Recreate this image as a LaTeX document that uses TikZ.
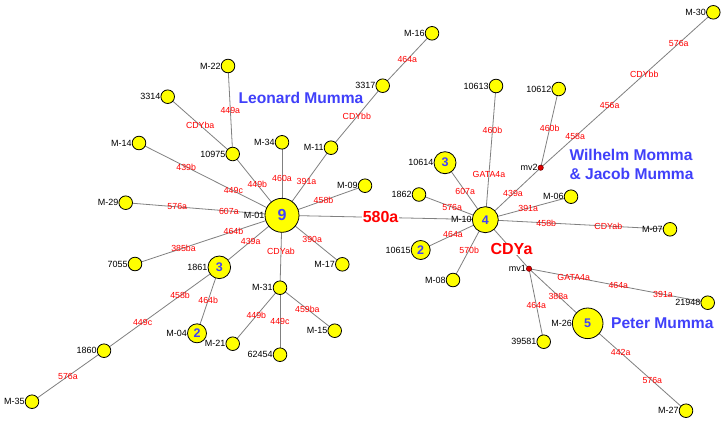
\documentclass[tikz,border=0pt]{standalone}
\usepackage{fontspec}
\setmainfont{Liberation Sans}
\usetikzlibrary{backgrounds}
\definecolor{nodeyellow}{RGB}{255,255,0}
\definecolor{txtblue}{RGB}{64,64,250}
\definecolor{edgegray}{RGB}{128,128,128}
\definecolor{mvred}{RGB}{225,0,0}
\begin{document}
\begin{tikzpicture}[x=1pt,y=-1pt,
  hap/.style={circle,draw=black,line width=0.8pt,fill=nodeyellow,inner sep=0pt,minimum size=13.6pt,label distance=1.5pt,
    text=txtblue,font=\bfseries\fontsize{12.5}{12.5}\selectfont},
  mvnode/.style={circle,draw=black!60!red,fill=mvred,line width=0.5pt,inner sep=0pt,minimum size=5.4pt,label distance=2pt},
  nlab/.style={font=\fontsize{9}{9}\selectfont,text=black,inner sep=0pt},
  edge/.style={draw=edgegray,line width=0.8pt},
  elab/.style={font=\fontsize{8.8}{8.8}\selectfont,text=red,inner sep=0pt},
  biglab/.style={font=\bfseries\fontsize{16}{16}\selectfont,text=red,fill=white,inner sep=0.6pt},
  grouplab/.style={font=\bfseries\fontsize{15.6}{19}\selectfont,text=txtblue,inner sep=0pt}
]
\useasboundingbox (0,0) rectangle (723,421);

% haplotype nodes
\node[hap,minimum size=34pt,font=\bfseries\fontsize{16}{16}\selectfont,label={[nlab]left:M-01}] (m01) at (282,215.3) {9};
\node[hap,minimum size=26pt,label={[nlab]left:M-10}] (m10) at (485.3,219.7) {4};
\node[hap,minimum size=30.6pt,label={[nlab]left:M-26}] (m26) at (587.7,323.3) {5};
\node[hap,minimum size=22.6pt,label={[nlab]left:1861}] (n1861) at (219.3,267.3) {3};
\node[hap,minimum size=22pt,label={[nlab]left:10614}] (n10614) at (445,162.7) {3};
\node[hap,minimum size=19pt,label={[nlab]left:10615}] (n10615) at (420.7,250) {2};
\node[hap,minimum size=19pt,label={[nlab]left:M-04}] (m04) at (197,333.3) {2};

\node[hap,label={[nlab]left:M-22}] (m22) at (228,66) {};
\node[hap,label={[nlab]left:3314}] (n3314) at (167.7,96.7) {};
\node[hap,label={[nlab]left:M-14}] (m14) at (139,143) {};
\node[hap,label={[nlab]left:10975}] (n10975) at (232.7,154) {};
\node[hap,label={[nlab]left:M-29}] (m29) at (125.7,202.7) {};
\node[hap,label={[nlab]left:7055}] (n7055) at (135,264) {};
\node[hap,label={[nlab]left:M-34}] (m34) at (282,142.3) {};
\node[hap,label={[nlab]left:M-11}] (m11) at (331,147.7) {};
\node[hap,label={[nlab]left:M-09}] (m09) at (365,185.7) {};
\node[hap,label={[nlab]left:M-17}] (m17) at (342.3,264.3) {};
\node[hap,label={[nlab]left:1862}] (n1862) at (419,194.5) {};
\node[hap,label={[nlab]left:M-08}] (m08) at (453,280) {};
\node[hap,label={[nlab]left:M-16}] (m16) at (432,33.3) {};
\node[hap,label={[nlab]left:3317}] (n3317) at (382.7,85.7) {};
\node[hap,label={[nlab]left:M-30}] (m30) at (713.3,12.3) {};
\node[hap,label={[nlab]left:10613}] (n10613) at (496,86) {};
\node[hap,label={[nlab]left:10612}] (n10612) at (558.7,89) {};
\node[hap,label={[nlab]left:M-06}] (m06) at (571,196.7) {};
\node[hap,label={[nlab]left:M-07}] (m07) at (670,229.3) {};
\node[hap,label={[nlab]left:21948}] (n21948) at (707.7,302.7) {};
\node[hap,label={[nlab]left:39581}] (n39581) at (543.7,341.7) {};
\node[hap,label={[nlab]left:M-27}] (m27) at (686,410.7) {};
\node[hap,label={[nlab]left:M-31}] (m31) at (280,287.7) {};
\node[hap,label={[nlab]left:M-21}] (m21) at (232.7,343.7) {};
\node[hap,label={[nlab]left:62454}] (n62454) at (280,354.7) {};
\node[hap,label={[nlab]left:M-15}] (m15) at (334.7,330.7) {};
\node[hap,label={[nlab]left:1860}] (n1860) at (104,350.7) {};
\node[hap,label={[nlab]left:M-35}] (m35) at (32,401.7) {};

% median vectors
\node[mvnode,label={[nlab]left:mv2}] (mv2) at (540.7,167.7) {};
\node[mvnode,label={[nlab]left:mv1}] (mv1) at (529,268.7) {};

% group names
\node[grouplab] (leonard) at (301,98.3) {Leonard Mumma};
\node[grouplab,align=left,anchor=west] (wilhelm) at (569.3,164) {Wilhelm Momma\\\& Jacob Mumma};
\node[grouplab] (peter) at (662.3,323.3) {Peter Mumma};

\begin{scope}[on background layer]
\fill[white] (0,0) rectangle (723,421);
% left cluster
\draw[edge] (n3314.center) -- node[elab]{CDYba} (n10975.center);
\draw[edge] (m22.center) -- node[elab]{449a} (n10975.center);
\draw[edge] (n10975.center) -- node[elab]{449b} (m01.center);
\draw[edge] (m14.center) -- node[elab,pos=0.33]{439b} node[elab,pos=0.66]{449c} (m01.center);
\draw[edge] (m29.center) -- node[elab,pos=0.33]{576a} node[elab,pos=0.66]{607a} (m01.center);
\draw[edge] (n7055.center) -- node[elab,pos=0.33]{385ba} node[elab,pos=0.67]{464b} (m01.center);
\draw[edge] (n1861.center) -- node[elab]{439a} (m01.center);
\draw[edge] (m01.center) -- node[elab]{460a} (m34.center);
\draw[edge] (m01.center) -- node[elab]{391a} (m11.center);
\draw[edge] (m11.center) -- node[elab]{CDYbb} (n3317.center);
\draw[edge] (n3317.center) -- node[elab]{464a} (m16.center);
\draw[edge] (m01.center) -- node[elab]{458b} (m09.center);
\draw[edge] (m01.center) -- node[elab]{390a} (m17.center);
\draw[edge] (m01.center) -- node[elab]{CDYab} (m31.center);
\draw[edge] (m31.center) -- node[elab]{449b} (m21.center);
\draw[edge] (m31.center) -- node[elab]{449c} (n62454.center);
\draw[edge] (m31.center) -- node[elab]{459ba} (m15.center);
\draw[edge] (n1861.center) -- node[elab]{464b} (m04.center);
\draw[edge] (n1861.center) -- node[elab,pos=0.34]{458b} node[elab,pos=0.665]{449c} (n1860.center);
\draw[edge] (n1860.center) -- node[elab]{576a} (m35.center);
% link
\draw[edge] (m01.center) -- node[biglab,pos=0.485]{580a} (m10.center);
% right cluster
\draw[edge] (m10.center) -- node[elab]{607a} (n10614.center);
\draw[edge] (m10.center) -- node[elab]{576a} (n1862.center);
\draw[edge] (m10.center) -- node[elab]{464a} (n10615.center);
\draw[edge] (m10.center) -- node[elab]{570b} (m08.center);
\draw[edge] (m10.center) -- node[elab,pos=0.34]{GATA4a} node[elab,pos=0.666]{460b} (n10613.center);
\draw[edge] (m10.center) -- node[elab]{439a} (mv2.center);
\draw[edge] (mv2.center) -- node[elab]{460b} (n10612.center);
\draw[edge] (mv2.center) -- node[elab,pos=0.2]{458a} node[elab,pos=0.4]{456a} node[elab,pos=0.6]{CDYbb} node[elab,pos=0.8]{576a} (m30.center);
\draw[edge] (m10.center) -- node[elab]{391a} (m06.center);
\draw[edge] (m10.center) -- node[elab,pos=0.33]{458b} node[elab,pos=0.666]{CDYab} (m07.center);
\draw[edge] (m10.center) -- node[biglab,pos=0.6]{CDYa} (mv1.center);
\draw[edge] (mv1.center) -- node[elab,pos=0.25]{GATA4a} node[elab,pos=0.5]{464a} node[elab,pos=0.75]{391a} (n21948.center);
\draw[edge] (mv1.center) -- node[elab]{388a} (m26.center);
\draw[edge] (mv1.center) -- node[elab]{464a} (n39581.center);
\draw[edge] (m26.center) -- node[elab,pos=0.336]{442a} node[elab,pos=0.657]{576a} (m27.center);
\end{scope}
\end{tikzpicture}
\end{document}
